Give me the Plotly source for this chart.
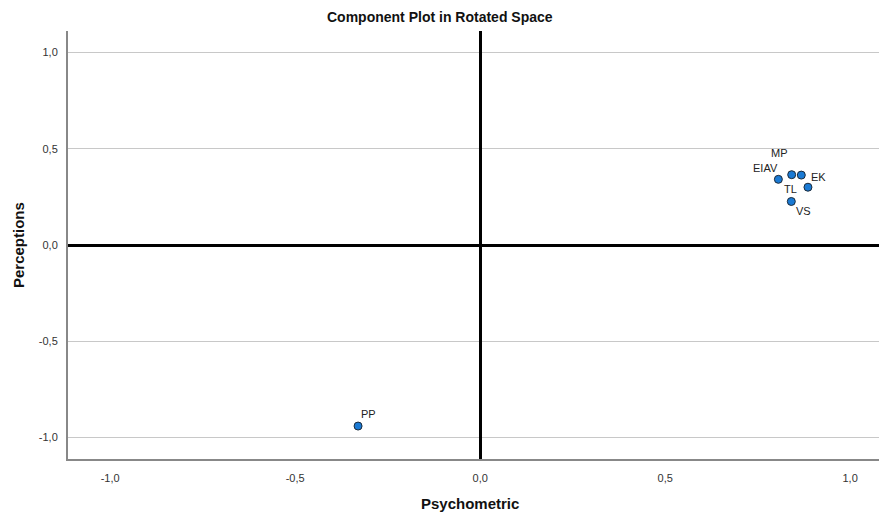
import plotly.graph_objects as go

labels = ["EIAV", "MP", "EK", "TL", "VS", "PP"]
psychometric = [0.806, 0.842, 0.868, 0.886, 0.841, -0.330]
perceptions = [0.341, 0.365, 0.363, 0.300, 0.226, -0.940]
# label offsets in pixels (x, y-up)
label_dx = [-13, -12, 17, -17, 12, 10]
label_dy = [11, 22, -2, -2, -10, 12]

tick_vals = [-1.0, -0.5, 0.0, 0.5, 1.0]
tick_text = ["-1,0", "-0,5", "0,0", "0,5", "1,0"]

FONT = "Liberation Sans, Arial"

fig = go.Figure()
fig.add_trace(go.Scatter(
    x=psychometric, y=perceptions, mode="markers",
    marker=dict(size=8, color="#1a7ad4", line=dict(color="#1b2a3a", width=1)),
    showlegend=False, hoverinfo="text", text=labels,
))
for lab, x, y, dx, dy in zip(labels, psychometric, perceptions, label_dx, label_dy):
    fig.add_annotation(x=x, y=y, text=lab, showarrow=False, xshift=dx, yshift=dy,
                       font=dict(family=FONT, size=11, color="#222222"))

# title and axis titles
fig.add_annotation(text="<b>Component Plot in Rotated Space</b>", xref="paper", yref="paper",
                   x=0.459, y=1, yshift=14, xanchor="center", yanchor="middle", showarrow=False,
                   font=dict(family=FONT, size=14, color="#111111"))
fig.add_annotation(text="<b>Psychometric</b>", xref="paper", yref="paper",
                   x=0.496, y=0, yshift=-44, xanchor="center", yanchor="middle", showarrow=False,
                   font=dict(family=FONT, size=15, color="#111111"))
fig.add_annotation(text="<b>Perceptions</b>", xref="paper", yref="paper",
                   x=0, xshift=-50, y=0.5, xanchor="center", yanchor="middle", showarrow=False,
                   textangle=-90, font=dict(family=FONT, size=15, color="#111111"))

fig.update_layout(
    width=879, height=515,
    margin=dict(l=68, r=0, t=31, b=56, autoexpand=False),
    plot_bgcolor="white", paper_bgcolor="white",
    font=dict(family=FONT, size=11, color="#333333"),
)
fig.update_xaxes(
    range=[-1.114, 1.078], tickvals=tick_vals, ticktext=tick_text, automargin=False,
    showgrid=False, zeroline=True, zerolinecolor="black", zerolinewidth=3,
    showline=True, linecolor="#888888", linewidth=2, ticks="", ticklabelstandoff=8,
)
fig.update_yaxes(
    range=[-1.111, 1.111], tickvals=tick_vals, ticktext=tick_text, automargin=False,
    showgrid=True, gridcolor="#c8c8c8", gridwidth=1,
    zeroline=True, zerolinecolor="black", zerolinewidth=3,
    showline=True, linecolor="#888888", linewidth=2, ticks="", ticklabelstandoff=6,
)
fig.write_html("out.html", config={"displayModeBar": False},
               post_script="document.body.style.margin='0';document.body.style.overflow='hidden';")
